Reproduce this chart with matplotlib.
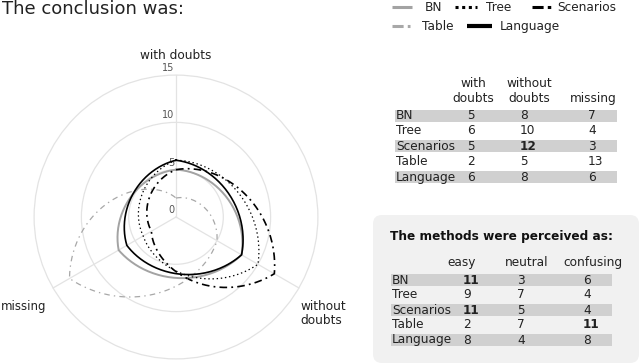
import numpy as np
import matplotlib.pyplot as plt
from matplotlib.patches import Circle, FancyBboxPatch

plt.rcParams['font.family'] = 'DejaVu Sans'
plt.rcParams['lines.scale_dashes'] = False

# data
axis_names = ['with doubts', 'without doubts', 'missing']
methods = ['BN', 'Tree', 'Scenarios', 'Table', 'Language']
bn = [5, 8, 7]
tree = [6, 10, 4]
scenarios = [5, 12, 3]
table = [2, 5, 13]
language = [6, 8, 6]
ring_ticks = [0, 5, 10, 15]

perc_cols = ['easy', 'neutral', 'confusing']
easy = [11, 9, 11, 2, 8]
neutral = [3, 7, 5, 7, 4]
confusing = [6, 4, 4, 11, 8]

# geometry (pixels)
W, H = 640, 363
cx, cy = 176, 217
s = 9.46  # px per unit

fig = plt.figure(figsize=(W / 100, H / 100), dpi=100)
ax = fig.add_axes([0, 0, 1, 1])
ax.set_xlim(-cx / s, (W - cx) / s)
ax.set_ylim(-(H - cy) / s, cy / s)
ax.axis('off')

grid_col = '#e3e3e3'
for r in ring_ticks[1:]:
    ax.add_patch(Circle((0, 0), r, fill=False, ec=grid_col, lw=0.9, zorder=1))
ang = np.radians([90, -30, -150])
for a in ang:
    ax.plot([0, 15 * np.cos(a)], [0, 15 * np.sin(a)], color=grid_col, lw=0.9, zorder=1)

for v in ring_ticks:
    ax.text(-0.2, v + 0.75, str(v), ha='right', va='center', fontsize=7, color='#555', zorder=2)


def radar_curve(vals, w=0.72, n=80):
    xs, ys = [], []
    for k in range(3):
        a0 = ang[k]
        a1 = a0 - np.radians(120)
        r0, r1 = vals[k], vals[(k + 1) % 3]
        u = np.linspace(0, 1, n, endpoint=False)
        a = a0 + (a1 - a0) * u
        r = r0 + (r1 - r0) * u
        x0, y0 = r0 * np.cos(a0), r0 * np.sin(a0)
        x1, y1 = r1 * np.cos(a1), r1 * np.sin(a1)
        chx = x0 + (x1 - x0) * u
        chy = y0 + (y1 - y0) * u
        xs.append(w * r * np.cos(a) + (1 - w) * chx)
        ys.append(w * r * np.sin(a) + (1 - w) * chy)
    xs = np.concatenate(xs)
    ys = np.concatenate(ys)
    return np.append(xs, xs[0]), np.append(ys, ys[0])


styles = {
    'BN': dict(color='#a3a3a3', lw=1.4, ls='-'),
    'Tree': dict(color='black', lw=0.9, ls=(0, (1, 2))),
    'Scenarios': dict(color='black', lw=1.2, ls=(0, (5.5, 3, 1.3, 3))),
    'Table': dict(color='#a8a8a8', lw=0.9, ls=(0, (4, 3, 1, 3))),
    'Language': dict(color='black', lw=1.2, ls='-'),
}
series = [bn, tree, scenarios, table, language]
for name, vals in zip(methods, series):
    x, y = radar_curve(vals)
    ax.plot(x, y, zorder=3, **styles[name])

# overlay in pixel coords
ov = fig.add_axes([0, 0, 1, 1])
ov.set_xlim(0, W)
ov.set_ylim(H, 0)
ov.axis('off')
ov.patch.set_alpha(0)

fs = 8.7
tc = '#222'


def txt(x, y, t, **kw):
    # y is the visual middle of the letters; place baseline below it
    kw.setdefault('fontsize', fs)
    kw.setdefault('color', tc)
    ov.text(x, y + 4, t, va='baseline', **kw)


ov.text(2, 14, 'The conclusion was:', fontsize=13, color=tc, va='baseline')

# axis labels
txt(176, 55, axis_names[0], ha='center')
txt(300, 306, 'without')
txt(300, 320, 'doubts')
txt(1, 306, axis_names[2], fontsize=8.5)

# legend
leg = [('BN', 392, 412, 7, 425), ('Tree', 455, 477, 7, 486), ('Scenarios', 532, 551, 7, 557),
       ('Table', 392, 410, 26, 422), ('Language', 467, 492, 26, 500)]
leg_ls = {'BN': ('#a3a3a3', 2.2, '-'), 'Tree': ('black', 2.2, (0, (2.2, 2.6))),
          'Scenarios': ('black', 2.2, (0, (8, 3, 2.5, 3))),
          'Table': ('#a8a8a8', 2.2, (0, (8, 3, 2.5, 3))), 'Language': ('black', 3.0, '-')}
for name, x0, x1, yy, tx in leg:
    c, lw, ls = leg_ls[name]
    ov.plot([x0, x1], [yy, yy], color=c, lw=lw, ls=ls, solid_capstyle='butt', dash_capstyle='butt')
    txt(tx, yy, name)

band = '#d0d0d0'

# table 1
t1_rows = [115, 130.4, 145.8, 161.2, 176.6]
t1_x = [467, 520, 588]
for hx, (l1, l2) in zip([473, 529, 593], [('with', 'doubts'), ('without', 'doubts'), ('', 'missing')]):
    txt(hx, 83, l1, ha='center')
    txt(hx, 98, l2, ha='center')
for i, (name, vals) in enumerate(zip(methods, series)):
    y = t1_rows[i]
    if i % 2 == 0:
        ov.add_patch(plt.Rectangle((395, y - 5.5), 222, 12, color=band, lw=0, zorder=0))
    txt(396, y, name)
    for j, v in enumerate(vals):
        bold = (name == 'Scenarios' and j == 1)
        txt(t1_x[j], y, str(v), fontweight='bold' if bold else 'normal')

# table 2 box
ov.add_patch(FancyBboxPatch((381, 223), 250, 132, boxstyle='round,pad=8,rounding_size=9',
                            fc='#f1f1f1', ec='none', zorder=0))
txt(390, 236, 'The methods were perceived as:', fontweight='bold', color='#111')
for hx, h in zip([462, 527, 593], perc_cols):
    txt(hx, 262, h, ha='center')
t2_rows = [279.5, 294.5, 309.5, 324.5, 339.5]
t2_x = [463, 517, 583]
perc = [easy, neutral, confusing]
for i, name in enumerate(methods):
    y = t2_rows[i]
    if i % 2 == 0:
        ov.add_patch(plt.Rectangle((391, y - 5.5), 221, 12, color=band, lw=0, zorder=1))
    txt(392, y, name)
    for j in range(3):
        v = perc[j][i]
        txt(t2_x[j], y, str(v), fontweight='bold' if v == 11 else 'normal')

fig.savefig('out.png', dpi=100)
